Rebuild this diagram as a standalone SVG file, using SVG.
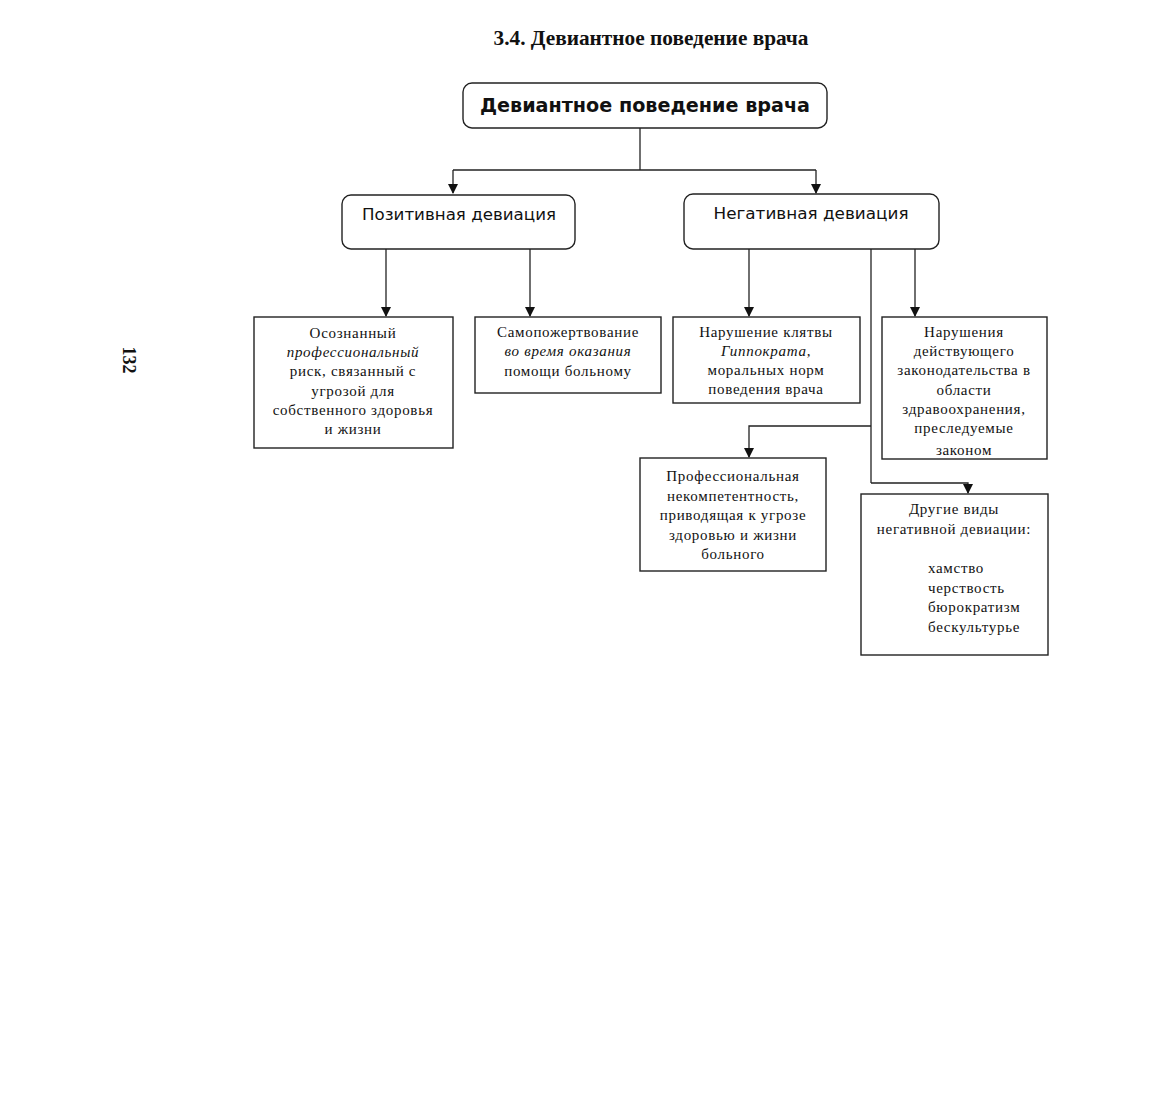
<svg xmlns="http://www.w3.org/2000/svg" width="1165" height="1096" viewBox="0 0 1165 1096">
<style>
.bg{fill:#fff}
.rb{fill:#fff;stroke:#222;stroke-width:1.4}
.sb{fill:#fff;stroke:#222;stroke-width:1.4}
.ln{fill:none;stroke:#222;stroke-width:1.3}
.t{font-family:"Liberation Serif","Times New Roman",serif;font-size:15px;letter-spacing:0.7px;fill:#111;text-anchor:middle}
.l{font-family:"Liberation Serif","Times New Roman",serif;font-size:15px;letter-spacing:0.7px;fill:#111;text-anchor:start}
.i{font-style:italic}
.s{font-family:"DejaVu Sans","Liberation Sans",sans-serif;font-size:15px;fill:#111;text-anchor:middle}
</style>
<defs>
<marker id="ar" viewBox="0 0 10 10" refX="9" refY="5" markerWidth="10" markerHeight="10" markerUnits="userSpaceOnUse" orient="auto">
<path d="M0,0 L10,5 L0,10 z" fill="#111"/>
</marker>
<clipPath id="c4"><rect x="882" y="317" width="165" height="141"/></clipPath>
</defs>
<rect class="bg" x="0" y="0" width="1165" height="1096"/>
<text x="651" y="45" font-family="Liberation Serif,serif" font-weight="bold" font-size="21" text-anchor="middle" fill="#111" textLength="315" lengthAdjust="spacingAndGlyphs">3.4. Девиантное поведение врача</text>
<text transform="translate(123,360) rotate(90)" font-family="Liberation Serif,serif" font-weight="bold" font-size="18" text-anchor="middle" fill="#111">132</text>

<g id="connectors">
<path class="ln" d="M640,128 V170"/>
<path class="ln" d="M453,170 H816"/>
<path class="ln" d="M453,170 V193" marker-end="url(#ar)"/>
<path class="ln" d="M816,170 V193" marker-end="url(#ar)"/>
<path class="ln" d="M386,249 V316" marker-end="url(#ar)"/>
<path class="ln" d="M530,249 V316" marker-end="url(#ar)"/>
<path class="ln" d="M749,249 V316" marker-end="url(#ar)"/>
<path class="ln" d="M915,249 V316" marker-end="url(#ar)"/>
<path class="ln" d="M871,249 V483"/>
<path class="ln" d="M871,426 H749 V457" marker-end="url(#ar)"/>
<path class="ln" d="M871,483 H968 V493" marker-end="url(#ar)"/>
</g>

<g id="root">
<rect class="rb" x="463" y="83" width="364" height="45" rx="9"/>
<text x="645" y="112" font-family="DejaVu Sans,Liberation Sans,sans-serif" font-weight="bold" font-size="20" text-anchor="middle" fill="#111" textLength="330" lengthAdjust="spacingAndGlyphs">Девиантное поведение врача</text>
</g>

<g id="positive">
<rect class="rb" x="342" y="195" width="233" height="54" rx="9"/>
<text class="s" x="459" y="220" textLength="194" lengthAdjust="spacingAndGlyphs">Позитивная девиация</text>
</g>

<g id="negative">
<rect class="rb" x="684" y="194" width="255" height="55" rx="9"/>
<text class="s" x="811" y="219" textLength="195" lengthAdjust="spacingAndGlyphs">Негативная девиация</text>
</g>

<g id="risk">
<rect class="sb" x="254" y="317" width="199" height="131"/>
<text class="t" x="353" y="338">Осознанный</text>
<text class="t i" x="353" y="357">профессиональный</text>
<text class="t" x="353" y="376">риск, связанный с</text>
<text class="t" x="353" y="396">угрозой для</text>
<text class="t" x="353" y="415">собственного здоровья</text>
<text class="t" x="353" y="434">и жизни</text>
</g>

<g id="sacrifice">
<rect class="sb" x="475" y="317" width="186" height="76"/>
<text class="t" x="568" y="337">Самопожертвование</text>
<text class="t i" x="568" y="356">во время оказания</text>
<text class="t" x="568" y="376">помощи больному</text>
</g>

<g id="oath">
<rect class="sb" x="673" y="317" width="187" height="86"/>
<text class="t" x="766" y="337">Нарушение клятвы</text>
<text class="t" x="766" y="356"><tspan class="i">Гиппократа</tspan>,</text>
<text class="t" x="766" y="375">моральных норм</text>
<text class="t" x="766" y="394">поведения врача</text>
</g>

<g id="law">
<rect class="sb" x="882" y="317" width="165" height="142"/>
<g clip-path="url(#c4)">
<text class="t" x="964" y="337">Нарушения</text>
<text class="t" x="964" y="356">действующего</text>
<text class="t" x="964" y="375">законодательства в</text>
<text class="t" x="964" y="395">области</text>
<text class="t" x="964" y="414">здравоохранения,</text>
<text class="t" x="964" y="433">преследуемые</text>
<text class="t" x="964" y="455">законом</text>
</g>
</g>

<g id="incompetence">
<rect class="sb" x="640" y="458" width="186" height="113"/>
<text class="t" x="733" y="481">Профессиональная</text>
<text class="t" x="733" y="501">некомпетентность,</text>
<text class="t" x="733" y="520">приводящая к угрозе</text>
<text class="t" x="733" y="540">здоровью и жизни</text>
<text class="t" x="733" y="559">больного</text>
</g>

<g id="other">
<rect class="sb" x="861" y="494" width="187" height="161"/>
<text class="t" x="954" y="514">Другие виды</text>
<text class="t" x="954" y="534">негативной девиации:</text>
<text class="l" x="928" y="573">хамство</text>
<text class="l" x="928" y="593">черствость</text>
<text class="l" x="928" y="612">бюрократизм</text>
<text class="l" x="928" y="632">бескультурье</text>
</g>
</svg>
